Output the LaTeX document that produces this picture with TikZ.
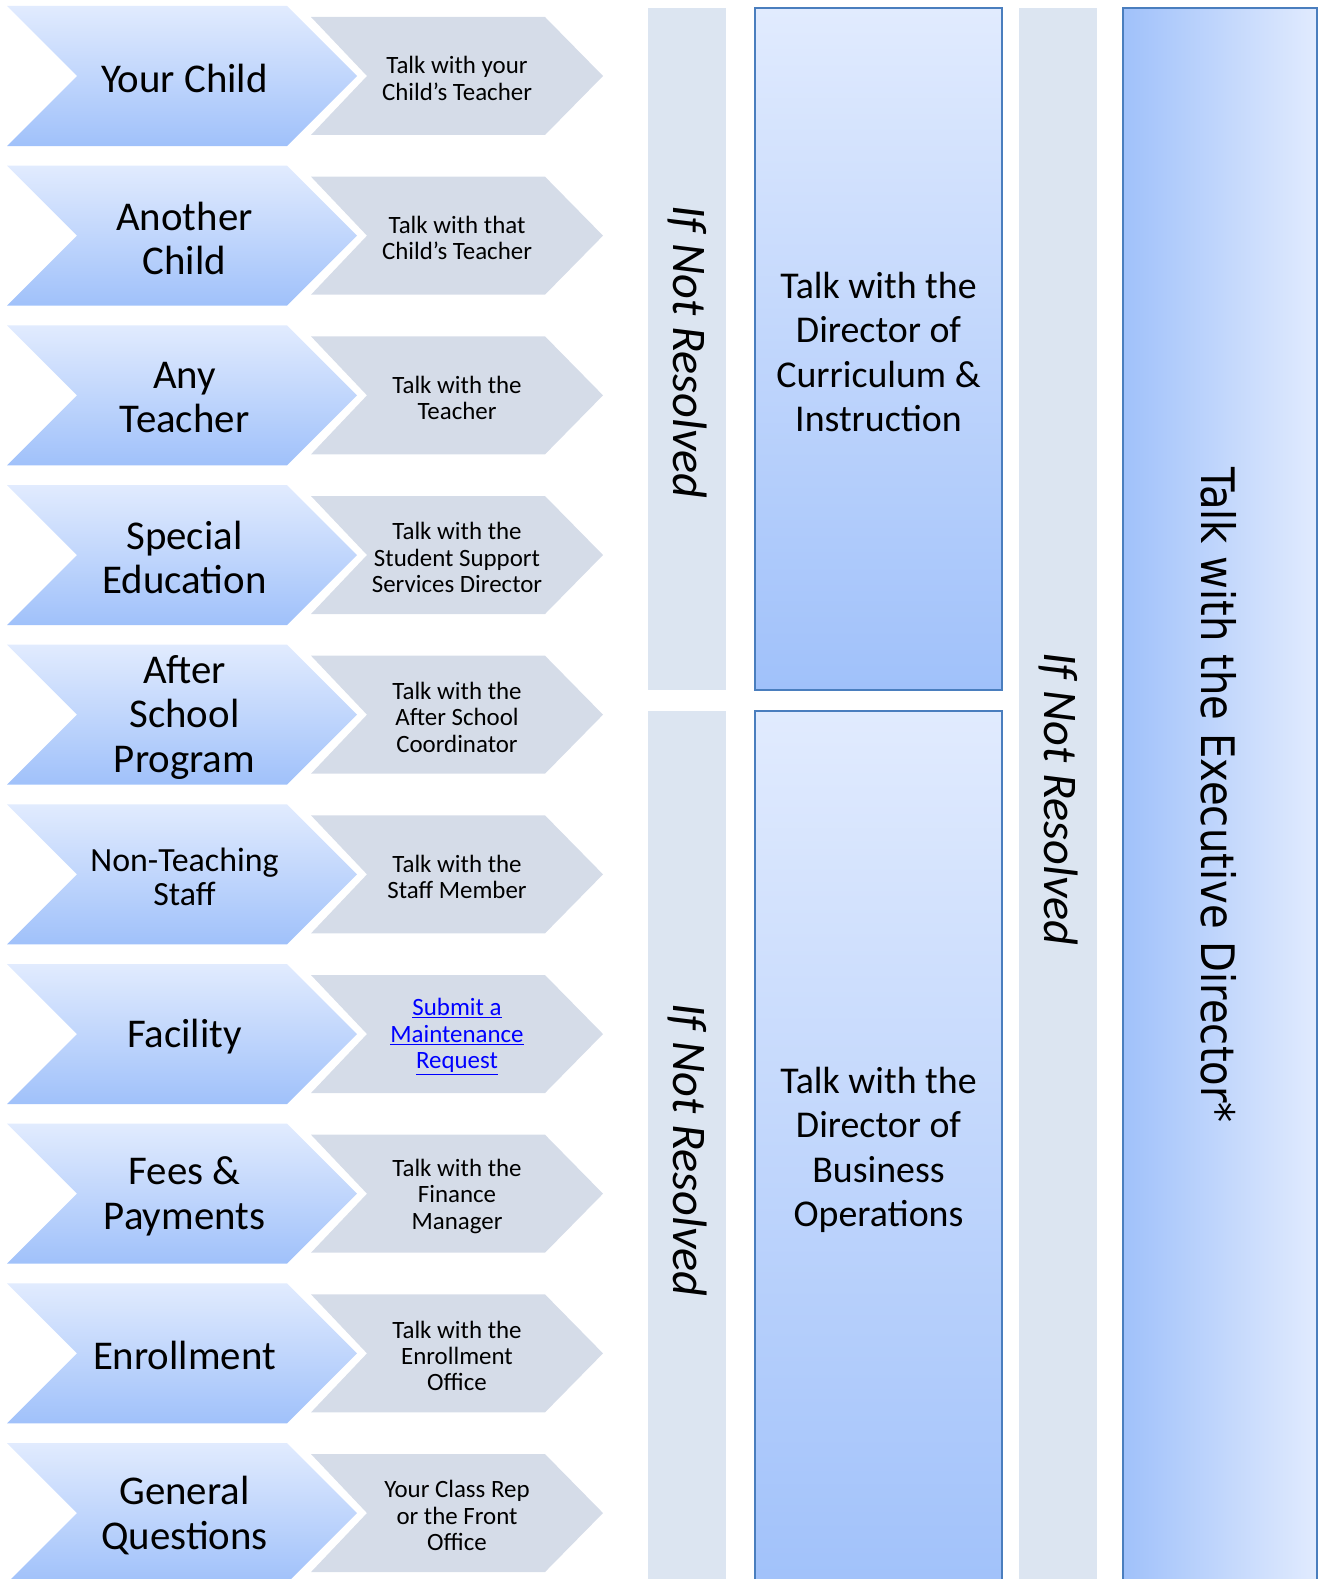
\documentclass[tikz,border=0pt]{standalone}
\usepackage{fontspec}
\setmainfont{Carlito}
\newfontfamily\execfont[FakeStretch=0.87]{DejaVu Sans}
\definecolor{bluetop}{RGB}{225,235,254}
\definecolor{bluebot}{RGB}{160,193,250}
\definecolor{greychev}{RGB}{213,220,232}
\definecolor{greycol}{RGB}{220,229,241}
\definecolor{boxborder}{RGB}{74,126,190}
\definecolor{linkblue}{RGB}{0,0,255}
\tikzset{
  bluechev/.style={top color=bluetop, bottom color=bluebot, draw=none},
  greychevron/.style={fill=greychev, draw=none},
  maintext/.style={align=center, inner sep=0pt},
  subtext/.style={font=\fontsize{25}{26.5}\selectfont, align=center, inner sep=0pt},
  colbar/.style={fill=greycol, draw=none},
  dirbox/.style={draw=boxborder, line width=1.5bp, top color=bluetop, bottom color=bluebot},
  execbox/.style={draw=boxborder, line width=1.5bp, left color=bluebot, right color=bluetop},
  dirtext/.style={font=\fontsize{38}{44.5}\selectfont, align=center, inner sep=0pt},
  notres/.style={font=\fontsize{48.5}{50}\selectfont\itshape, rotate=-90, inner sep=0pt},
  exectext/.style={font=\execfont\fontsize{46.3}{50}\selectfont, rotate=-90, inner sep=0pt}
}
\begin{document}
\begin{tikzpicture}[x=1bp,y=-1bp]
\useasboundingbox (0,0) rectangle (1321,1579);
\clip (0,0) rectangle (1321,1579);
\foreach \i/\fs/\ls/\main/\sub in {
  0/41/44.5/{Your Child}/{Talk with your\\Child’s Teacher},
  1/41/44.5/{Another\\Child}/{Talk with that\\Child’s Teacher},
  2/41/44.5/{Any\\Teacher}/{Talk with the\\Teacher},
  3/41/44.5/{Special\\Education}/{Talk with the\\Student Support\\Services Director},
  4/41/44.5/{After\\School\\Program}/{Talk with the\\After School\\Coordinator},
  5/34/34/{Non-Teaching\\Staff}/{Talk with the\\Staff Member},
  6/41/44.5/{Facility}/{\textcolor{linkblue}{\underline{Submit a}}\\\textcolor{linkblue}{\underline{Maintenance}}\\\textcolor{linkblue}{\underline{Request}}},
  7/41/44.5/{Fees \&\\Payments}/{Talk with the\\Finance\\Manager},
  8/41/44.5/{Enrollment}/{Talk with the\\Enrollment\\Office},
  9/41/44.5/{General\\Questions}/{Your Class Rep\\or the Front\\Office}}
{
  \pgfmathsetmacro{\t}{6+159.67*\i}
  \path[greychevron] (311,\t+11) -- (545,\t+11) -- (603,\t+70) -- (545,\t+129) -- (311,\t+129) -- (367,\t+70) -- cycle;
  \path[bluechev] (7,\t) -- (287,\t) -- (357,\t+70) -- (287,\t+140) -- (7,\t+140) -- (77,\t+70) -- cycle;
  \node[maintext, font=\fontsize{\fs}{\ls}\selectfont] (m\i) at (184.5,\t+72.5) {\main};
  \node[subtext] (s\i) at (457,\t+72.5) {\sub};
}
% grey columns
\path[colbar] (648,8) rectangle (726,690);
\path[colbar] (648,711) rectangle (726,1600);
\path[colbar] (1019,8) rectangle (1097,1600);
% director boxes
\draw[dirbox] (755,8) rectangle (1002,690);
\draw[dirbox] (755,711) rectangle (1002,1600);
\draw[execbox] (1123,8) rectangle (1317,1600);
% texts
\node[dirtext] (dir1) at (878.5,352) {Talk with the\\Director of\\Curriculum \&\\Instruction};
\node[dirtext] (dir2) at (878.5,1150) {Talk with the\\Director of\\Business\\Operations};
\node[notres] (nr1) at (687,352) {If Not Resolved};
\node[notres] (nr2) at (687,1150) {If Not Resolved};
\node[notres] (nr3) at (1058,799) {If Not Resolved};
\node[exectext] (exec) at (1219,795) {Talk with the Executive Director*};
\end{tikzpicture}
\end{document}
